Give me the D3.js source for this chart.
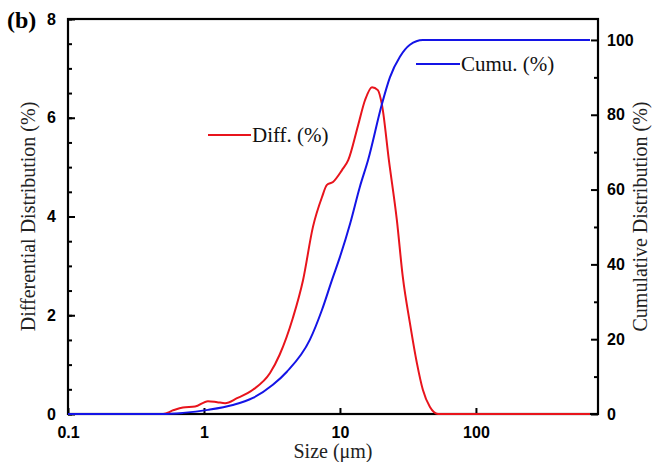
<!DOCTYPE html>
<html>
<head>
<meta charset="utf-8">
<script src="https://cdn.jsdelivr.net/npm/d3@7"></script>
<style>
  body { margin: 0; background: #fff; }
  .tick text { font-family: "Liberation Sans", Arial, sans-serif; font-weight: bold; font-size: 16px; fill: #000; }
  .ttl { font-family: "Liberation Serif", "Times New Roman", serif; font-size: 20px; fill: #222; }
  .leg { font-family: "Liberation Serif", "Times New Roman", serif; font-size: 21px; fill: #111; }
</style>
</head>
<body>
<div id="chart"></div>
<script>
// size (um) / differential distribution (%)
var diffSize = [0.1, 0.5, 0.6, 0.7, 0.86, 1.07, 1.25, 1.43, 1.75, 2.29, 3.06, 3.6, 4.51, 5.35, 6.33, 7.37, 8.02, 8.89, 10.35, 11.5, 13.6, 15.3, 17.2, 19.0, 20.4, 22.9, 26.2, 29.0, 32.7, 36.8, 40.7, 45.9, 52.6, 690];
var diffVal  = [0, 0, 0.08, 0.13, 0.15, 0.26, 0.24, 0.22, 0.32, 0.49, 0.83, 1.2, 1.95, 2.71, 3.79, 4.39, 4.64, 4.70, 4.94, 5.14, 5.85, 6.36, 6.62, 6.56, 6.25, 5.14, 3.93, 2.77, 1.84, 1.03, 0.49, 0.14, 0, 0];
// size (um) / cumulative distribution (%)
var cumSize = [0.1, 0.5, 0.7, 1.07, 1.63, 2.29, 3.21, 4.07, 6.0, 7.37, 8.73, 10, 11.9, 14.0, 16.1, 20.4, 23.3, 27.6, 32.7, 40.7, 690];
var cumVal  = [0, 0, 0.3, 1.1, 2.4, 4.3, 7.8, 11.3, 19.8, 27.8, 35.8, 42, 51, 60.7, 67.9, 83, 90, 95.5, 98.7, 100, 100];

var xTicks = [0.1, 1, 10, 100];
var xTickLabels = ["0.1", "1", "10", "100"];
var yLeftTicks = [0, 2, 4, 6, 8];
var yRightTicks = [0, 20, 40, 60, 80, 100];

var W = 655, H = 462;
var margin = {top: 19, right: 57, bottom: 48, left: 68},
    width = W - margin.left - margin.right,
    height = H - margin.top - margin.bottom;

var svg = d3.select("#chart").append("svg")
  .attr("width", W)
  .attr("height", H);

var g = svg.append("g")
  .attr("transform", "translate(" + margin.left + "," + margin.top + ")");

var x = d3.scaleLog().domain([0.1, 790]).range([0, width]);
var yL = d3.scaleLinear().domain([0, 8]).range([height, 0]);
var yR = d3.scaleLinear().domain([0, 105.6]).range([height, 0]);

// axes
var xAxis = d3.axisBottom(x).tickValues(xTicks)
  .tickFormat(function(d, i) { return xTickLabels[i]; })
  .tickSizeInner(-6).tickSizeOuter(0).tickPadding(13);
g.append("g").attr("transform", "translate(0," + height + ")").call(xAxis);

g.append("g").call(d3.axisLeft(yL).ticks(16).tickSizeInner(-4).tickSizeOuter(0).tickFormat(""));
g.append("g").call(d3.axisLeft(yL).tickValues(yLeftTicks).tickSizeInner(-7).tickSizeOuter(0).tickPadding(12).tickFormat(d3.format("d")));

var gr = g.append("g").attr("transform", "translate(" + width + ",0)");
gr.append("g").call(d3.axisRight(yR).tickValues(d3.range(10, 101, 20)).tickSizeInner(-4).tickSizeOuter(0).tickFormat(""));
gr.append("g").call(d3.axisRight(yR).tickValues(yRightTicks).tickSizeInner(-7).tickSizeOuter(0).tickPadding(9));

g.selectAll(".domain").remove();
g.selectAll(".tick line").attr("stroke", "#000").attr("stroke-width", 2);

// frame
g.append("rect")
  .attr("width", width).attr("height", height)
  .attr("fill", "none").attr("stroke", "#000").attr("stroke-width", 2.2);

// curves
var lineD = d3.line().x(function(d) { return x(d[0]); }).y(function(d) { return yL(d[1]); }).curve(d3.curveMonotoneX);
var lineC = d3.line().x(function(d) { return x(d[0]); }).y(function(d) { return yR(d[1]); }).curve(d3.curveMonotoneX);

g.append("path")
  .datum(d3.zip(diffSize, diffVal))
  .attr("d", lineD)
  .attr("fill", "none").attr("stroke", "#e8141c").attr("stroke-width", 2);

g.append("path")
  .datum(d3.zip(cumSize, cumVal))
  .attr("d", lineC)
  .attr("fill", "none").attr("stroke", "#1414e6").attr("stroke-width", 2);

// legends
svg.append("line").attr("x1", 208).attr("x2", 251).attr("y1", 135).attr("y2", 135)
  .attr("stroke", "#e8141c").attr("stroke-width", 2);
svg.append("text").attr("class", "leg").attr("x", 252).attr("y", 142).text("Diff. (%)");
svg.append("line").attr("x1", 416).attr("x2", 460).attr("y1", 64).attr("y2", 64)
  .attr("stroke", "#1414e6").attr("stroke-width", 2);
svg.append("text").attr("class", "leg").attr("x", 461).attr("y", 71).text("Cumu. (%)");

// titles
svg.append("text").attr("class", "ttl").attr("x", margin.left + width / 2).attr("y", 458)
  .attr("text-anchor", "middle").text("Size (\u03bcm)");
svg.append("text").attr("class", "ttl")
  .attr("transform", "translate(35," + (margin.top + height / 2) + ") rotate(-90)")
  .attr("text-anchor", "middle").text("Differential Distribution (%)");
svg.append("text").attr("class", "ttl")
  .attr("transform", "translate(647," + (margin.top + height / 2) + ") rotate(-90)")
  .attr("text-anchor", "middle").text("Cumulative Distribution (%)");

svg.append("text")
  .attr("x", 7).attr("y", 28)
  .style("font-family", "'Liberation Serif', 'Times New Roman', serif")
  .style("font-weight", "bold").style("font-size", "24px")
  .text("(b)");
</script>
</body>
</html>
